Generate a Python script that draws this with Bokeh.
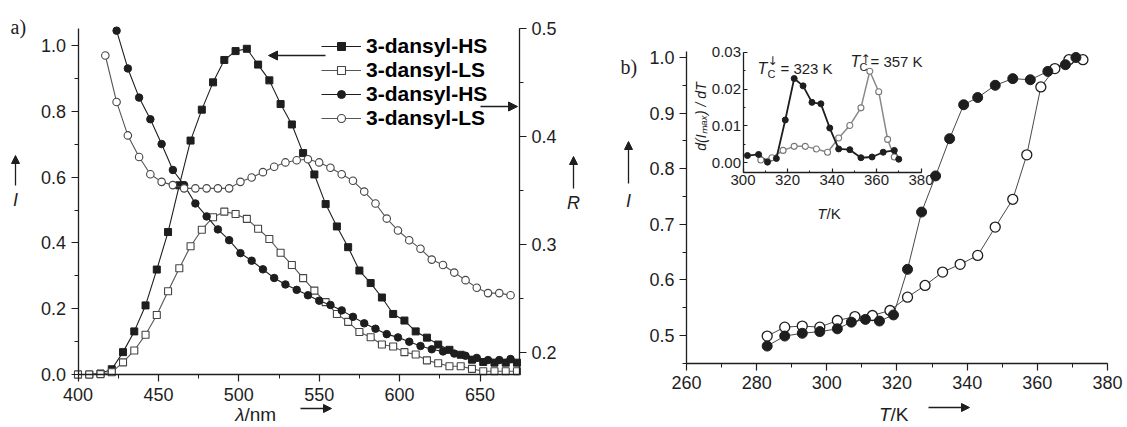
import math
from bokeh.plotting import figure
from bokeh.models import (LinearAxis, Range1d, SingleIntervalTicker, NumeralTickFormatter,
                          Label, Arrow, NormalHead, Legend, LegendItem)
from bokeh.layouts import row
from bokeh.embed import file_html
from bokeh.resources import INLINE

# ---------------- panel a data ----------------
wl_sq = [400, 407, 414, 421, 428, 435, 442, 449, 456, 463, 470, 477, 484, 491, 498, 505, 512, 519,
         526, 533, 540, 547, 554, 561, 568, 575, 582, 589, 596, 603, 610, 617, 624, 631, 638, 645,
         652, 659, 666, 673]
I_HS = [0.0, 0.0, 0.003, 0.016, 0.068, 0.131, 0.210, 0.319, 0.433, 0.575, 0.711, 0.805, 0.888, 0.956,
        0.983, 0.990, 0.942, 0.894, 0.822, 0.760, 0.673, 0.608, 0.518, 0.450, 0.387, 0.316, 0.278,
        0.234, 0.184, 0.164, 0.131, 0.112, 0.091, 0.075, 0.060, 0.045, 0.038, 0.036, 0.036, 0.036]
I_LS = [0.0, 0.0, 0.001, 0.007, 0.037, 0.073, 0.121, 0.181, 0.253, 0.323, 0.390, 0.440, 0.478, 0.495,
        0.488, 0.473, 0.443, 0.412, 0.370, 0.333, 0.293, 0.255, 0.220, 0.184, 0.160, 0.129, 0.113,
        0.091, 0.085, 0.068, 0.061, 0.043, 0.034, 0.025, 0.025, 0.017, 0.010, 0.010, 0.010, 0.010]

wl_ls = [417, 424, 431, 438, 445, 452, 459, 466, 473, 480, 487, 494, 501, 508, 515, 522, 529,
         536, 543, 550, 557, 564, 571, 578, 585, 592, 599, 606, 613, 620, 627, 634, 641, 648, 655,
         662, 669]
R_LS = [0.475, 0.432, 0.401, 0.381, 0.365, 0.358, 0.355, 0.352, 0.352, 0.352, 0.352, 0.352,
        0.358, 0.362, 0.367, 0.372, 0.376, 0.378, 0.379, 0.376, 0.371, 0.365, 0.359, 0.349, 0.338,
        0.324, 0.313, 0.304, 0.296, 0.286, 0.281, 0.274, 0.267, 0.260, 0.255, 0.255, 0.253]

wl_hs = [424, 431, 438, 445, 452, 459, 466, 473, 480, 487, 494, 501, 508, 515, 522, 529, 536,
         543, 550, 557, 564, 571, 578, 585, 592, 599, 606, 613, 620, 627, 634, 641, 648, 655, 662, 669]
R_HS = [0.498, 0.463, 0.436, 0.416, 0.393, 0.369, 0.355, 0.338, 0.326, 0.314, 0.304, 0.292,
        0.285, 0.277, 0.269, 0.263, 0.258, 0.253, 0.248, 0.244, 0.239, 0.233, 0.227, 0.222, 0.217,
        0.214, 0.210, 0.206, 0.203, 0.201, 0.199, 0.197, 0.195, 0.193, 0.193, 0.194]

legend_labels = ["3-dansyl-HS", "3-dansyl-LS", "3-dansyl-HS", "3-dansyl-LS"]

# ---------------- panel b data ----------------
T_fill = [283, 288, 293, 298, 303, 307, 311, 315, 319, 323, 327, 331, 335, 339, 343, 348, 353, 358,
          363, 368, 371]
I_fill = [0.481, 0.499, 0.504, 0.507, 0.512, 0.524, 0.529, 0.526, 0.537, 0.619, 0.722, 0.787, 0.854,
          0.915, 0.928, 0.950, 0.962, 0.960, 0.975, 0.987, 1.0]
T_open = [283, 288, 293, 298, 303, 308, 313, 318, 323, 328, 333, 338, 343, 348, 353, 357, 361, 365,
          369, 373]
I_open = [0.499, 0.515, 0.517, 0.515, 0.527, 0.534, 0.536, 0.545, 0.569, 0.590, 0.614, 0.628, 0.644,
          0.695, 0.745, 0.825, 0.947, 0.980, 0.996, 0.996]

# inset: derivative
Ti_fill = [302, 307, 311, 315, 319, 323, 327, 331, 335, 339, 343, 348, 353, 358, 363, 368, 370]
dI_fill = [0.0019, 0.0022, 0.0001, 0.0011, 0.0116, 0.0229, 0.0209, 0.0164, 0.0160, 0.0094, 0.0037,
           0.0035, 0.0013, 0.0015, 0.0028, 0.0033, 0.0009]
Ti_open = [308, 313, 318, 323, 328, 333, 338, 343, 348, 353, 357, 361, 365, 368]
dI_open = [0.0007, 0.0013, 0.0033, 0.0044, 0.0044, 0.0037, 0.0028, 0.0067, 0.0101, 0.0149, 0.0249,
           0.0193, 0.0063, 0.0015]

FONT = "Liberation Sans"
INK = "#1e1e1e"
H = 427
WA, WB = 620, 507

# ---- pixel <-> data helpers (page pixels of the picture) ----
AX0, AXS = 77.5, 1.608          # panel a: 400 nm at x=77.5, px per nm
AY0, AYS = 374.0, 329.0         # panel a: I=0 at y=374, px per unit I
RY0, RYS = 352.0, 1080.0        # panel a: R=0.2 at y=352
BX0, BXS = 686.0, 3.5083        # panel b: 260 K at x=686
BY0, BYS = 335.0, 556.0         # panel b: I=0.5 at y=335
IX0, IXS = 742.5, 2.225         # inset: 300 K at x=742.5
IY0, IYS = 162.0, 3667.0        # inset: 0 at y=162


def ax(px): return 400 + (px - AX0) / AXS
def ay(py): return (AY0 - py) / AYS
def ry(py): return 0.2 + (RY0 - py) / RYS
def bx(px): return 260 + (px - BX0) / BXS
def by(py): return 0.5 + (BY0 - py) / BYS
def ix(px): return 300 + (px - IX0) / IXS
def iy(py): return (IY0 - py) / IYS


def style_axis(ax_, fs="18px", tick_out=7, minor_out=4, tick_in=0, minor_in=0, standoff=5):
    ax_.axis_line_color = INK
    ax_.axis_line_width = 1.3
    ax_.major_tick_line_color = INK
    ax_.minor_tick_line_color = INK
    ax_.major_tick_line_width = 1.2
    ax_.minor_tick_line_width = 1.0
    ax_.major_tick_out = tick_out
    ax_.major_tick_in = tick_in
    ax_.minor_tick_out = minor_out
    ax_.minor_tick_in = minor_in
    ax_.major_label_text_font = FONT
    ax_.major_label_text_font_size = fs
    ax_.major_label_text_color = INK
    ax_.major_label_standoff = standoff


def add_label(p, text, x, y, size="18px", style="normal", font=FONT, align="left",
              baseline="alphabetic", angle=0.0):
    p.add_layout(Label(x=x, y=y, text=text, text_font=font, text_font_size=size,
                       text_font_style=style, text_color=INK, text_align=align,
                       text_baseline=baseline, angle=angle))


def add_arrow(p, x0, y0, x1, y1, size=8):
    p.add_layout(Arrow(end=NormalHead(size=size, fill_color=INK, line_color=INK, line_width=1),
                       x_start=x0, y_start=y0, x_end=x1, y_end=y1,
                       line_color=INK, line_width=1.3))


def bare_figure(w, xr, yr):
    p = figure(width=w, height=H, x_range=xr, y_range=yr,
               min_border_left=0, min_border_right=0, min_border_top=0, min_border_bottom=0,
               output_backend="svg", toolbar_location=None, tools="")
    p.xgrid.visible = False
    p.ygrid.visible = False
    p.outline_line_color = None
    return p


# ================= panel a =================
pa = bare_figure(WA, Range1d(ax(0), ax(WA)), Range1d(ay(H), ay(0)))
pa.extra_y_ranges = {"R": Range1d(ry(H), ry(0))}
x_right_a = ax(519)

pa.xaxis.fixed_location = 0
pa.xaxis.bounds = (400, x_right_a)
pa.xaxis.ticker = SingleIntervalTicker(interval=50, num_minor_ticks=2)
pa.yaxis.fixed_location = 400
pa.yaxis.bounds = (0, ay(28))
pa.yaxis.ticker = SingleIntervalTicker(interval=0.2, num_minor_ticks=2)
pa.yaxis.formatter = NumeralTickFormatter(format="0.0")
style_axis(pa.xaxis[0], standoff=6)
style_axis(pa.yaxis[0])
r_axis = LinearAxis(y_range_name="R", fixed_location=x_right_a, bounds=(0.18, 0.5),
                    ticker=SingleIntervalTicker(interval=0.1, num_minor_ticks=2),
                    formatter=NumeralTickFormatter(format="0.0"))
style_axis(r_axis)
pa.add_layout(r_axis, "right")

l1 = pa.line(wl_sq, I_HS, line_color=INK, line_width=1.1)
s1 = pa.scatter(wl_sq, I_HS, marker="square", size=7, fill_color=INK, line_color=INK)
l2 = pa.line(wl_sq, I_LS, line_color="#555555", line_width=1.1)
s2 = pa.scatter(wl_sq, I_LS, marker="square", size=7, fill_color="white", line_color="#444444",
                line_width=1.1)
l3 = pa.line(wl_hs, R_HS, line_color=INK, line_width=1.1, y_range_name="R")
s3 = pa.scatter(wl_hs, R_HS, marker="circle", size=7.5, fill_color=INK, line_color=INK,
                y_range_name="R")
l4 = pa.line(wl_ls, R_LS, line_color="#555555", line_width=1.1, y_range_name="R")
s4 = pa.scatter(wl_ls, R_LS, marker="circle", size=7.5, fill_color="white", line_color="#444444",
                line_width=1.1, y_range_name="R")

legend = Legend(items=[LegendItem(label=legend_labels[0], renderers=[l1, s1]),
                       LegendItem(label=legend_labels[1], renderers=[l2, s2]),
                       LegendItem(label=legend_labels[2], renderers=[l3, s3]),
                       LegendItem(label=legend_labels[3], renderers=[l4, s4])],
                location=(321, 297), border_line_color=None, background_fill_alpha=0,
                label_text_font=FONT, label_text_font_style="bold", label_text_font_size="21px",
                label_text_color="black", glyph_width=40, glyph_height=20, label_height=20,
                spacing=0, padding=0, margin=0, label_standoff=5)
pa.add_layout(legend)

# arrows pointing at axes
add_arrow(pa, ax(325), ay(55), ax(268), ay(55), size=9)
add_arrow(pa, ax(480), ay(106), ax(517), ay(106), size=9)

# axis label decorations
add_label(pa, "a)", ax(10), ay(26), size="20px", font="Liberation Serif")
add_label(pa, "I", ax(15), ay(199), size="18px", style="italic", align="center", baseline="middle")
add_arrow(pa, ax(15), ay(185), ax(15), ay(155), size=8)
add_label(pa, "R", ax(573), ay(202), size="18px", style="italic", align="center", baseline="middle")
add_arrow(pa, ax(573), ay(188), ax(573), ay(156), size=8)
add_label(pa, "λ", ax(244), ay(414), size="19px", style="italic", align="right")
add_label(pa, "/nm", ax(244), ay(414), size="19px", align="left")
add_arrow(pa, ax(300), ay(408), ax(331), ay(408), size=8)

# ================= panel b =================
pb = bare_figure(WB, Range1d(bx(WA), bx(WA + WB)), Range1d(by(H), by(0)))
pb.extra_x_ranges = {"ix": Range1d(ix(WA), ix(WA + WB))}
pb.extra_y_ranges = {"iy": Range1d(iy(H), iy(0))}
pb.xaxis.fixed_location = 0.45
pb.xaxis.bounds = (260, 380)
pb.xaxis.ticker = SingleIntervalTicker(interval=20, num_minor_ticks=2)
pb.yaxis.fixed_location = 260
pb.yaxis.bounds = (0.45, by(51))
pb.yaxis.ticker = SingleIntervalTicker(interval=0.1, num_minor_ticks=2)
pb.yaxis.formatter = NumeralTickFormatter(format="0.0")
style_axis(pb.xaxis[0], standoff=6)
style_axis(pb.yaxis[0])

pb.line(T_fill, I_fill, line_color="#333333", line_width=0.9)
pb.line(T_open, I_open, line_color="#333333", line_width=0.9)
pb.scatter(T_open, I_open, marker="circle", size=10, fill_color="white", line_color=INK,
           line_width=1.3)
pb.scatter(T_fill, I_fill, marker="circle", size=10, fill_color=INK, line_color=INK)

# inset axes
ix_axis = LinearAxis(x_range_name="ix", y_range_name="iy", fixed_location=iy(172),
                     bounds=(300, 380), ticker=SingleIntervalTicker(interval=20, num_minor_ticks=2))
style_axis(ix_axis, fs="15px", tick_out=0, minor_out=0, tick_in=4, minor_in=2, standoff=2)
pb.add_layout(ix_axis, "below")
iy_axis = LinearAxis(x_range_name="ix", y_range_name="iy", fixed_location=300,
                     bounds=(iy(172), 0.03),
                     ticker=SingleIntervalTicker(interval=0.01, num_minor_ticks=2),
                     formatter=NumeralTickFormatter(format="0.00"))
style_axis(iy_axis, fs="15px", tick_out=0, minor_out=0, tick_in=4, minor_in=2, standoff=2)
pb.add_layout(iy_axis, "left")

pb.line(Ti_open, dI_open, line_color="#888888", line_width=1.5, x_range_name="ix", y_range_name="iy")
pb.line(Ti_fill, dI_fill, line_color=INK, line_width=1.8, x_range_name="ix", y_range_name="iy")
pb.scatter(Ti_open, dI_open, marker="circle", size=6, fill_color="white", line_color="#777777",
           line_width=1.1, x_range_name="ix", y_range_name="iy")
pb.scatter(Ti_fill, dI_fill, marker="circle", size=6, fill_color=INK, line_color=INK,
           x_range_name="ix", y_range_name="iy")

# inset texts
add_label(pb, "T", bx(826), by(213), size="15px", style="italic", align="right")
add_label(pb, "/K", bx(826), by(213), size="15px", align="left")
add_label(pb, "d(Iₘₐₓ) / dT", bx(700), by(116), size="14px", style="italic", align="center",
          baseline="middle", angle=math.pi / 2)
add_label(pb, "T", bx(757), by(68), size="16px", style="italic")
add_label(pb, "C", bx(767), by(73), size="11px")
add_label(pb, "↓", bx(767), by(60), size="12px", font="DejaVu Sans")
add_label(pb, "= 323 K", bx(780), by(68), size="15px")
add_label(pb, "T", bx(850), by(61), size="16px", style="italic")
add_label(pb, "C", bx(859), by(66), size="11px")
add_label(pb, "↑", bx(860), by(58), size="12px", font="DejaVu Sans")
add_label(pb, "= 357 K", bx(870), by(61), size="15px")

# panel b axis label decorations
add_label(pb, "b)", bx(620), by(66), size="20px", font="Liberation Serif")
add_label(pb, "I", bx(628), by(200), size="18px", style="italic", align="center", baseline="middle")
add_arrow(pb, bx(628), by(183), bx(628), by(141), size=8)
add_label(pb, "T", bx(890), by(414), size="19px", style="italic", align="right")
add_label(pb, "/K", bx(890), by(414), size="19px", align="left")
add_arrow(pb, bx(928), by(407), bx(969), by(407), size=8)

layout = row(pa, pb)
open("out.html", "w").write(file_html(layout, INLINE))
